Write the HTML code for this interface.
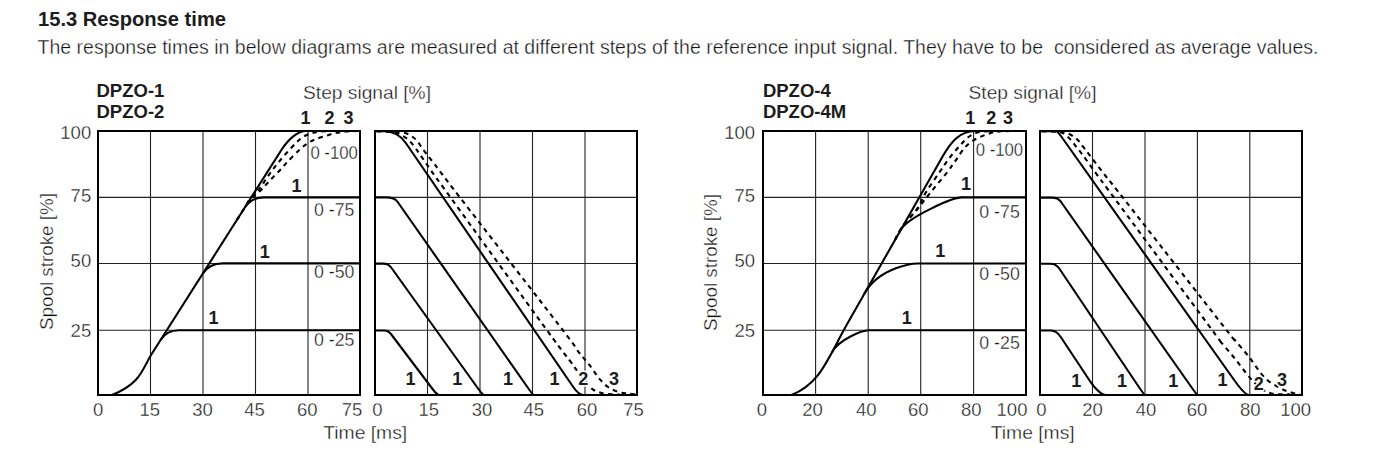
<!DOCTYPE html>
<html><head><meta charset="utf-8"><style>
html,body{margin:0;padding:0;background:#fff;}
svg{display:block;}
text{font-family:"Liberation Sans", sans-serif;}
</style></head><body>
<svg width="1373" height="460" viewBox="0 0 1373 460">
<rect width="1373" height="460" fill="#fff"/>
<line x1="150.5" y1="131" x2="150.5" y2="395" stroke="#222" stroke-width="1.1"/>
<line x1="203" y1="131" x2="203" y2="395" stroke="#222" stroke-width="1.1"/>
<line x1="255.5" y1="131" x2="255.5" y2="395" stroke="#222" stroke-width="1.1"/>
<line x1="308" y1="131" x2="308" y2="395" stroke="#222" stroke-width="1.1"/>
<line x1="98" y1="197.4" x2="360" y2="197.4" stroke="#222" stroke-width="1.1"/>
<line x1="98" y1="263.5" x2="360" y2="263.5" stroke="#222" stroke-width="1.1"/>
<line x1="98" y1="330.3" x2="360" y2="330.3" stroke="#222" stroke-width="1.1"/>
<rect x="98" y="131" width="262" height="264" fill="none" stroke="#000" stroke-width="2"/>
<line x1="427.5" y1="131" x2="427.5" y2="395" stroke="#222" stroke-width="1.1"/>
<line x1="480" y1="131" x2="480" y2="395" stroke="#222" stroke-width="1.1"/>
<line x1="532.5" y1="131" x2="532.5" y2="395" stroke="#222" stroke-width="1.1"/>
<line x1="585" y1="131" x2="585" y2="395" stroke="#222" stroke-width="1.1"/>
<line x1="375" y1="197.4" x2="637" y2="197.4" stroke="#222" stroke-width="1.1"/>
<line x1="375" y1="263.5" x2="637" y2="263.5" stroke="#222" stroke-width="1.1"/>
<line x1="375" y1="330.3" x2="637" y2="330.3" stroke="#222" stroke-width="1.1"/>
<rect x="375" y="131" width="262" height="264" fill="none" stroke="#000" stroke-width="2"/>
<line x1="815.6" y1="131" x2="815.6" y2="395" stroke="#222" stroke-width="1.1"/>
<line x1="868.2" y1="131" x2="868.2" y2="395" stroke="#222" stroke-width="1.1"/>
<line x1="920.7" y1="131" x2="920.7" y2="395" stroke="#222" stroke-width="1.1"/>
<line x1="973.6" y1="131" x2="973.6" y2="395" stroke="#222" stroke-width="1.1"/>
<line x1="763" y1="197.4" x2="1026" y2="197.4" stroke="#222" stroke-width="1.1"/>
<line x1="763" y1="263.5" x2="1026" y2="263.5" stroke="#222" stroke-width="1.1"/>
<line x1="763" y1="330.3" x2="1026" y2="330.3" stroke="#222" stroke-width="1.1"/>
<rect x="763" y="131" width="263" height="264" fill="none" stroke="#000" stroke-width="2"/>
<line x1="1092.5" y1="131" x2="1092.5" y2="395" stroke="#222" stroke-width="1.1"/>
<line x1="1145" y1="131" x2="1145" y2="395" stroke="#222" stroke-width="1.1"/>
<line x1="1197.4" y1="131" x2="1197.4" y2="395" stroke="#222" stroke-width="1.1"/>
<line x1="1249.8" y1="131" x2="1249.8" y2="395" stroke="#222" stroke-width="1.1"/>
<line x1="1040" y1="197.4" x2="1302" y2="197.4" stroke="#222" stroke-width="1.1"/>
<line x1="1040" y1="263.5" x2="1302" y2="263.5" stroke="#222" stroke-width="1.1"/>
<line x1="1040" y1="330.3" x2="1302" y2="330.3" stroke="#222" stroke-width="1.1"/>
<rect x="1040" y="131" width="262" height="264" fill="none" stroke="#000" stroke-width="2"/>
<path d="M112,395 C141.13,383.7 142.71,368.08 151.03,355 L281.38,150 C288.88,138.22 298.23,131 306,131 L359,131" fill="none" stroke="#000" stroke-width="2.1" stroke-linecap="butt" stroke-linejoin="round"/>
<path d="M160.56,340 C164.39,333.99 171.39,330.3 179,330.3 L359,330.3" fill="none" stroke="#000" stroke-width="2.1" stroke-linecap="butt" stroke-linejoin="round"/>
<path d="M202.72,273.7 C206.79,267.31 214.34,263.4 222.6,263.4 L359,263.4" fill="none" stroke="#000" stroke-width="2.1" stroke-linecap="butt" stroke-linejoin="round"/>
<path d="M244.95,207.3 C248.85,201.16 256.09,197.4 264,197.4 L359,197.4" fill="none" stroke="#000" stroke-width="2.1" stroke-linecap="butt" stroke-linejoin="round"/>
<path d="M236.87,220 C238.67,217.17 245.24,206.83 247.68,203 C250.12,199.17 249.41,199.53 251.5,197 C253.58,194.47 257.88,190.63 260.2,187.8 C262.52,184.97 263.52,182.75 265.4,180 C267.28,177.25 269.47,174.05 271.5,171.3 C273.53,168.55 275.13,166.5 277.6,163.5 C280.07,160.5 283.13,156.82 286.3,153.3 C289.47,149.78 293.7,145.2 296.6,142.4 C299.5,139.6 301.17,138.03 303.7,136.5 C306.23,134.97 309.08,134.03 311.8,133.2 C314.52,132.37 316.97,131.87 320,131.5 C323.03,131.13 325.83,131.08 330,131 C334.17,130.92 342.5,131 345,131" fill="none" stroke="#000" stroke-width="2.1" stroke-dasharray="4.6 4.4"/>
<path d="M236.87,220 C238.46,217.5 244.29,208.33 246.41,205 C248.53,201.67 247.23,202.43 249.59,200 C251.95,197.57 257.68,193.15 260.6,190.4 C263.52,187.65 264.85,185.88 267.1,183.5 C269.35,181.12 271.78,178.5 274.1,176.1 C276.42,173.7 278.83,171.42 281,169.1 C283.17,166.78 284.05,165.38 287.1,162.2 C290.15,159.02 295.82,153.2 299.3,150 C302.78,146.8 305.22,144.83 308,143 C310.78,141.17 313.1,140.17 316,139 C318.9,137.83 322.4,136.93 325.4,136 C328.4,135.07 331.07,134.1 334,133.4 C336.93,132.7 340.08,132.17 343,131.8 C345.92,131.43 349,131.33 351.5,131.2 C354,131.07 356.92,131.03 358,131" fill="none" stroke="#000" stroke-width="2.1" stroke-dasharray="4.6 4.4"/>
<path d="M791.4,395 C821.07,383.01 827.22,358.9 848.3,322 L942.88,156 C950.88,142 960.02,131 975,131 L1025,131" fill="none" stroke="#000" stroke-width="2.1" stroke-linecap="butt" stroke-linejoin="round"/>
<path d="M832.2,351.99 C838.79,339.64 862.2,330.3 868.7,330.3 L1025,330.3" fill="none" stroke="#000" stroke-width="2.1" stroke-linecap="butt" stroke-linejoin="round"/>
<path d="M864.06,294 C879.93,266.21 915.1,263.5 917.6,263.5 L1025,263.5" fill="none" stroke="#000" stroke-width="2.1" stroke-linecap="butt" stroke-linejoin="round"/>
<path d="M900.61,230 C908.05,216.98 952.7,197.4 961.7,197.4 L1025,197.4" fill="none" stroke="#000" stroke-width="2.1" stroke-linecap="butt" stroke-linejoin="round"/>
<path d="M894.9,240 C896.23,237.67 899.28,231.07 902.9,226 C906.52,220.93 912.73,215.27 916.6,209.6 C920.47,203.93 922.35,198.13 926.1,192 C929.85,185.87 935.3,178.35 939.1,172.8 C942.9,167.25 945.45,163.22 948.9,158.7 C952.35,154.18 956.53,149.32 959.8,145.7 C963.07,142.08 965.6,139.18 968.5,137 C971.4,134.82 973.95,133.57 977.2,132.6 C980.45,131.63 984.53,131.47 988,131.2 C991.47,130.93 996.33,131.03 998,131" fill="none" stroke="#000" stroke-width="2.1" stroke-dasharray="4.6 4.4"/>
<path d="M894.9,240 C896.23,237.67 899.13,231.17 902.9,226 C906.67,220.83 912.83,214.67 917.5,209 C922.17,203.33 926.03,198.03 930.9,192 C935.77,185.97 942.62,177.98 946.7,172.8 C950.78,167.62 952.5,164.97 955.4,160.9 C958.3,156.83 961.2,151.75 964.1,148.4 C967,145.05 969.72,142.88 972.8,140.8 C975.88,138.72 979.33,137.27 982.6,135.9 C985.87,134.53 989.33,133.37 992.4,132.6 C995.47,131.83 997.73,131.57 1001,131.3 C1004.27,131.03 1010.17,131.05 1012,131" fill="none" stroke="#000" stroke-width="2.1" stroke-dasharray="4.6 4.4"/>
<path d="M376,131.3 L384,131.3 C392.53,131.3 400.81,135.75 405.79,143 L572.9,386.5 C576.52,391.77 580.55,395 583.5,395 L636,395" fill="none" stroke="#000" stroke-width="2.1" stroke-linecap="butt" stroke-linejoin="round"/>
<path d="M376,197.4 L386,197.4 C391.25,197.4 395.69,199.15 397.69,202 L528.07,388 C531.12,392.34 533.37,395 534,395 L636,395" fill="none" stroke="#000" stroke-width="2.1" stroke-linecap="butt" stroke-linejoin="round"/>
<path d="M376,263.6 L383.5,263.6 C386.52,263.6 389.43,265.08 391.17,267.5 L477.68,388 C480.8,392.34 483.39,395 484.5,395 L636,395" fill="none" stroke="#000" stroke-width="2.1" stroke-linecap="butt" stroke-linejoin="round"/>
<path d="M376,330.5 L384.5,330.5 C386.86,330.5 389.46,332.02 391.34,334.5 L432.54,389 C435.35,392.72 438,395 439.5,395 L636,395" fill="none" stroke="#000" stroke-width="2.1" stroke-linecap="butt" stroke-linejoin="round"/>
<path d="M377,131.2 C378.83,131.25 384.5,131.12 388,131.5 C391.5,131.88 394.7,132.2 398,133.5 C401.3,134.8 405,137.02 407.8,139.3 C410.6,141.58 412.72,144.58 414.8,147.2 C416.88,149.82 417.07,150.37 420.3,155 C423.53,159.63 429.18,167.95 434.19,175 C439.21,182.05 431.63,171.47 450.39,197.3 C469.15,223.13 526.82,302.73 546.76,330 C566.69,357.27 565.23,354.48 570,360.9 C574.77,367.32 573.23,365.68 575.4,368.5 C577.57,371.32 580.28,374.45 583,377.8 C585.72,381.15 588.62,386.07 591.7,388.6 C594.78,391.13 598.12,392.05 601.5,393 C604.88,393.95 608.92,394.05 612,394.3 C615.08,394.55 618.67,394.47 620,394.5" fill="none" stroke="#000" stroke-width="2.1" stroke-dasharray="4.6 4.4"/>
<path d="M377,131.2 C379.5,131.25 387.17,131.15 392,131.5 C396.83,131.85 402.07,132 406,133.3 C409.93,134.6 413.07,137.07 415.6,139.3 C418.13,141.53 419.3,144.15 421.2,146.7 C423.1,149.25 425.03,152.02 427,154.6 C428.97,157.18 427.53,155.08 433,162.2 C438.47,169.32 438.18,169.33 459.8,197.3 C481.42,225.27 542.87,304.18 562.69,330 C582.51,355.82 575.13,347.42 578.7,352.2 C582.27,356.98 582.28,356.53 584.1,358.7 C585.92,360.87 587.78,362.85 589.6,365.2 C591.42,367.55 593.2,370.35 595,372.8 C596.8,375.25 598.23,377.53 600.4,379.9 C602.57,382.27 605.1,385.02 608,387 C610.9,388.98 614.53,390.7 617.8,391.8 C621.07,392.9 624.57,393.18 627.6,393.6 C630.63,394.02 634.6,394.18 636,394.3" fill="none" stroke="#000" stroke-width="2.1" stroke-dasharray="4.6 4.4"/>
<path d="M1041,131.3 L1056,131.3 C1056.99,131.3 1058.99,133.28 1061.28,136.5 L1234.14,380 C1240.74,389.3 1246.43,395 1249.1,395 L1301,395" fill="none" stroke="#000" stroke-width="2.1" stroke-linecap="butt" stroke-linejoin="round"/>
<path d="M1041,197.6 L1052,197.6 C1055.7,197.6 1059,199.08 1060.71,201.5 L1190.63,386 C1194.56,391.58 1197.06,395 1197.2,395 L1301,395" fill="none" stroke="#000" stroke-width="2.1" stroke-linecap="butt" stroke-linejoin="round"/>
<path d="M1041,263.8 L1050,263.8 C1053.8,263.8 1057.32,265.59 1059.28,268.5 L1138.21,386 C1141.95,391.58 1144.57,395 1145.1,395 L1301,395" fill="none" stroke="#000" stroke-width="2.1" stroke-linecap="butt" stroke-linejoin="round"/>
<path d="M1041,330.5 L1051,330.5 C1054.4,330.5 1058.12,332.97 1060.78,337 L1089.22,380 C1096.16,390.5 1102.62,395 1106.1,395 L1301,395" fill="none" stroke="#000" stroke-width="2.1" stroke-linecap="butt" stroke-linejoin="round"/>
<path d="M1042,131.2 C1044,131.25 1050.73,131.27 1054,131.5 C1057.27,131.73 1058.93,131.33 1061.6,132.6 C1064.27,133.87 1067.52,136.68 1070,139.1 C1072.48,141.52 1074.47,144.57 1076.5,147.1 C1078.53,149.63 1078.32,149.07 1082.2,154.3 C1086.08,159.53 1094.56,171.35 1099.8,178.5 C1105.04,185.65 1094.96,171.97 1113.66,197.2 C1132.35,222.43 1194.18,305.88 1211.97,329.9 C1229.76,353.92 1216.73,336.7 1220.4,341.3 C1224.07,345.9 1229.43,351.85 1234,357.5 C1238.57,363.15 1244.05,370.7 1247.8,375.2 C1251.55,379.7 1253.47,381.78 1256.5,384.5 C1259.53,387.22 1262.75,389.92 1266,391.5 C1269.25,393.08 1272,393.52 1276,394 C1280,394.48 1287.67,394.33 1290,394.4" fill="none" stroke="#000" stroke-width="2.1" stroke-dasharray="4.6 4.4"/>
<path d="M1042,131.2 C1044.67,131.27 1053.72,131.23 1058,131.6 C1062.28,131.97 1064.55,132.15 1067.7,133.4 C1070.85,134.65 1074.35,136.88 1076.9,139.1 C1079.45,141.32 1080.98,144.17 1083,146.7 C1085.02,149.23 1085.17,149.33 1089,154.3 C1092.83,159.27 1100.4,169.35 1106,176.5 C1111.6,183.65 1102.51,171.63 1122.57,197.2 C1142.63,222.77 1207.64,306.1 1226.34,329.9 C1245.05,353.7 1231.01,335.48 1234.8,340 C1238.59,344.52 1244.1,350.7 1249.1,357 C1254.1,363.3 1259.58,372.6 1264.8,377.8 C1270.02,383 1275.85,385.7 1280.4,388.2 C1284.95,390.7 1288.83,391.78 1292.1,392.8 C1295.37,393.82 1298.68,394.05 1300,394.3" fill="none" stroke="#000" stroke-width="2.1" stroke-dasharray="4.6 4.4"/>
<text x="38" y="26" font-size="20" font-weight="bold" text-anchor="start" fill="#1c1c1c" textLength="188" lengthAdjust="spacingAndGlyphs">15.3 Response time</text>
<text x="37.5" y="53.6" font-size="19.5" text-anchor="start" fill="#111" textLength="1281" lengthAdjust="spacingAndGlyphs" stroke="#fff" stroke-width="0.35">The response times in below diagrams are measured at different steps of the reference input signal. They have to be&#160; considered as average values.</text>
<text x="96.5" y="97" font-size="18.5" font-weight="bold" text-anchor="start" fill="#1c1c1c">DPZO-1</text>
<text x="96.5" y="117.7" font-size="18.5" font-weight="bold" text-anchor="start" fill="#1c1c1c">DPZO-2</text>
<text x="762.9" y="97" font-size="18.5" font-weight="bold" text-anchor="start" fill="#1c1c1c">DPZO-4</text>
<text x="762.9" y="117.7" font-size="18.5" font-weight="bold" text-anchor="start" fill="#1c1c1c">DPZO-4M</text>
<text x="303" y="99" font-size="19" text-anchor="start" fill="#111" textLength="128" lengthAdjust="spacingAndGlyphs" stroke="#fff" stroke-width="0.35">Step signal [%]</text>
<text x="968.5" y="99" font-size="19" text-anchor="start" fill="#111" textLength="128" lengthAdjust="spacingAndGlyphs" stroke="#fff" stroke-width="0.35">Step signal [%]</text>
<text x="305.55" y="124" font-size="18" font-weight="bold" text-anchor="middle" fill="#1c1c1c">1</text>
<text x="329.5" y="124" font-size="18" font-weight="bold" text-anchor="middle" fill="#1c1c1c">2</text>
<text x="348.6" y="124" font-size="18" font-weight="bold" text-anchor="middle" fill="#1c1c1c">3</text>
<text x="970.35" y="124" font-size="18" font-weight="bold" text-anchor="middle" fill="#1c1c1c">1</text>
<text x="991.25" y="124" font-size="18" font-weight="bold" text-anchor="middle" fill="#1c1c1c">2</text>
<text x="1008" y="124" font-size="18" font-weight="bold" text-anchor="middle" fill="#1c1c1c">3</text>
<text x="91.2" y="138.9" font-size="18.5" text-anchor="end" fill="#111" stroke="#fff" stroke-width="0.35">100</text>
<text x="91.2" y="201.9" font-size="18.5" text-anchor="end" fill="#111" stroke="#fff" stroke-width="0.35">75</text>
<text x="91.2" y="267.2" font-size="18.5" text-anchor="end" fill="#111" stroke="#fff" stroke-width="0.35">50</text>
<text x="91.2" y="336.7" font-size="18.5" text-anchor="end" fill="#111" stroke="#fff" stroke-width="0.35">25</text>
<text x="755" y="138.9" font-size="18.5" text-anchor="end" fill="#111" stroke="#fff" stroke-width="0.35">100</text>
<text x="755" y="201.9" font-size="18.5" text-anchor="end" fill="#111" stroke="#fff" stroke-width="0.35">75</text>
<text x="755" y="267.2" font-size="18.5" text-anchor="end" fill="#111" stroke="#fff" stroke-width="0.35">50</text>
<text x="755" y="336.7" font-size="18.5" text-anchor="end" fill="#111" stroke="#fff" stroke-width="0.35">25</text>
<text transform="translate(52.7,330) rotate(-90)" font-size="19" fill="#111" stroke="#fff" stroke-width="0.35" textLength="137" lengthAdjust="spacingAndGlyphs">Spool stroke [%]</text>
<text transform="translate(717,331) rotate(-90)" font-size="19" fill="#111" stroke="#fff" stroke-width="0.35" textLength="137" lengthAdjust="spacingAndGlyphs">Spool stroke [%]</text>
<text x="98.2" y="416.2" font-size="18.5" text-anchor="middle" fill="#111" stroke="#fff" stroke-width="0.35">0</text>
<text x="149.7" y="416.2" font-size="18.5" text-anchor="middle" fill="#111" stroke="#fff" stroke-width="0.35">15</text>
<text x="202.6" y="416.2" font-size="18.5" text-anchor="middle" fill="#111" stroke="#fff" stroke-width="0.35">30</text>
<text x="254.5" y="416.2" font-size="18.5" text-anchor="middle" fill="#111" stroke="#fff" stroke-width="0.35">45</text>
<text x="307.3" y="416.2" font-size="18.5" text-anchor="middle" fill="#111" stroke="#fff" stroke-width="0.35">60</text>
<text x="352" y="416.2" font-size="18.5" text-anchor="middle" fill="#111" stroke="#fff" stroke-width="0.35">75</text>
<text x="377.4" y="416.2" font-size="18.5" text-anchor="middle" fill="#111" stroke="#fff" stroke-width="0.35">0</text>
<text x="428.8" y="416.2" font-size="18.5" text-anchor="middle" fill="#111" stroke="#fff" stroke-width="0.35">15</text>
<text x="482" y="416.2" font-size="18.5" text-anchor="middle" fill="#111" stroke="#fff" stroke-width="0.35">30</text>
<text x="533.8" y="416.2" font-size="18.5" text-anchor="middle" fill="#111" stroke="#fff" stroke-width="0.35">45</text>
<text x="587" y="416.2" font-size="18.5" text-anchor="middle" fill="#111" stroke="#fff" stroke-width="0.35">60</text>
<text x="633.5" y="416.2" font-size="18.5" text-anchor="middle" fill="#111" stroke="#fff" stroke-width="0.35">75</text>
<text x="762" y="416.2" font-size="18.5" text-anchor="middle" fill="#111" stroke="#fff" stroke-width="0.35">0</text>
<text x="812.5" y="416.2" font-size="18.5" text-anchor="middle" fill="#111" stroke="#fff" stroke-width="0.35">20</text>
<text x="866.3" y="416.2" font-size="18.5" text-anchor="middle" fill="#111" stroke="#fff" stroke-width="0.35">40</text>
<text x="918.3" y="416.2" font-size="18.5" text-anchor="middle" fill="#111" stroke="#fff" stroke-width="0.35">60</text>
<text x="971.2" y="416.2" font-size="18.5" text-anchor="middle" fill="#111" stroke="#fff" stroke-width="0.35">80</text>
<text x="1012" y="416.2" font-size="18.5" text-anchor="middle" fill="#111" stroke="#fff" stroke-width="0.35">100</text>
<text x="1041.5" y="416.2" font-size="18.5" text-anchor="middle" fill="#111" stroke="#fff" stroke-width="0.35">0</text>
<text x="1092.5" y="416.2" font-size="18.5" text-anchor="middle" fill="#111" stroke="#fff" stroke-width="0.35">20</text>
<text x="1146" y="416.2" font-size="18.5" text-anchor="middle" fill="#111" stroke="#fff" stroke-width="0.35">40</text>
<text x="1197" y="416.2" font-size="18.5" text-anchor="middle" fill="#111" stroke="#fff" stroke-width="0.35">60</text>
<text x="1250.3" y="416.2" font-size="18.5" text-anchor="middle" fill="#111" stroke="#fff" stroke-width="0.35">80</text>
<text x="1295.7" y="416.2" font-size="18.5" text-anchor="middle" fill="#111" stroke="#fff" stroke-width="0.35">100</text>
<text x="323.2" y="438.6" font-size="19" text-anchor="start" fill="#111" textLength="84" lengthAdjust="spacingAndGlyphs" stroke="#fff" stroke-width="0.35">Time [ms]</text>
<text x="990.7" y="438.6" font-size="19" text-anchor="start" fill="#111" textLength="84" lengthAdjust="spacingAndGlyphs" stroke="#fff" stroke-width="0.35">Time [ms]</text>
<text x="310.4" y="159.2" font-size="18.5" text-anchor="start" fill="#111" textLength="47.5" lengthAdjust="spacingAndGlyphs" stroke="#fff" stroke-width="0.35">0 -100</text>
<text x="314" y="216.2" font-size="18.5" text-anchor="start" fill="#111" textLength="40.5" lengthAdjust="spacingAndGlyphs" stroke="#fff" stroke-width="0.35">0 -75</text>
<text x="314" y="278.2" font-size="18.5" text-anchor="start" fill="#111" textLength="40.5" lengthAdjust="spacingAndGlyphs" stroke="#fff" stroke-width="0.35">0 -50</text>
<text x="314" y="346.2" font-size="18.5" text-anchor="start" fill="#111" textLength="40.5" lengthAdjust="spacingAndGlyphs" stroke="#fff" stroke-width="0.35">0 -25</text>
<text x="975.7" y="156.2" font-size="18.5" text-anchor="start" fill="#111" textLength="47.5" lengthAdjust="spacingAndGlyphs" stroke="#fff" stroke-width="0.35">0 -100</text>
<text x="979.3" y="218" font-size="18.5" text-anchor="start" fill="#111" textLength="40.5" lengthAdjust="spacingAndGlyphs" stroke="#fff" stroke-width="0.35">0 -75</text>
<text x="979.3" y="280.1" font-size="18.5" text-anchor="start" fill="#111" textLength="40.5" lengthAdjust="spacingAndGlyphs" stroke="#fff" stroke-width="0.35">0 -50</text>
<text x="979.3" y="349.1" font-size="18.5" text-anchor="start" fill="#111" textLength="40.5" lengthAdjust="spacingAndGlyphs" stroke="#fff" stroke-width="0.35">0 -25</text>
<text x="296.5" y="192" font-size="18" font-weight="bold" text-anchor="middle" fill="#1c1c1c">1</text>
<text x="264.8" y="258" font-size="18" font-weight="bold" text-anchor="middle" fill="#1c1c1c">1</text>
<text x="213.4" y="323.7" font-size="18" font-weight="bold" text-anchor="middle" fill="#1c1c1c">1</text>
<text x="966.1" y="190.4" font-size="18" font-weight="bold" text-anchor="middle" fill="#1c1c1c">1</text>
<text x="940.2" y="256.5" font-size="18" font-weight="bold" text-anchor="middle" fill="#1c1c1c">1</text>
<text x="906.8" y="324" font-size="18" font-weight="bold" text-anchor="middle" fill="#1c1c1c">1</text>
<text x="410.5" y="384.8" font-size="18" font-weight="bold" text-anchor="middle" fill="#1c1c1c">1</text>
<text x="457.2" y="384.8" font-size="18" font-weight="bold" text-anchor="middle" fill="#1c1c1c">1</text>
<text x="508" y="384.8" font-size="18" font-weight="bold" text-anchor="middle" fill="#1c1c1c">1</text>
<text x="554.4" y="384.8" font-size="18" font-weight="bold" text-anchor="middle" fill="#1c1c1c">1</text>
<text x="583.2" y="384.8" font-size="18" font-weight="bold" text-anchor="middle" fill="#1c1c1c" stroke="#fff" stroke-width="3" paint-order="stroke" stroke-linejoin="round">2</text>
<text x="614" y="384.8" font-size="18" font-weight="bold" text-anchor="middle" fill="#1c1c1c" stroke="#fff" stroke-width="3" paint-order="stroke" stroke-linejoin="round">3</text>
<text x="1076.2" y="386.6" font-size="18" font-weight="bold" text-anchor="middle" fill="#1c1c1c">1</text>
<text x="1122.1" y="386.6" font-size="18" font-weight="bold" text-anchor="middle" fill="#1c1c1c">1</text>
<text x="1173.2" y="386.6" font-size="18" font-weight="bold" text-anchor="middle" fill="#1c1c1c">1</text>
<text x="1222.4" y="386.4" font-size="18" font-weight="bold" text-anchor="middle" fill="#1c1c1c">1</text>
<text x="1258.7" y="390.3" font-size="18" font-weight="bold" text-anchor="middle" fill="#1c1c1c" stroke="#fff" stroke-width="3" paint-order="stroke" stroke-linejoin="round">2</text>
<text x="1282.1" y="385.7" font-size="18" font-weight="bold" text-anchor="middle" fill="#1c1c1c" stroke="#fff" stroke-width="3" paint-order="stroke" stroke-linejoin="round">3</text>
</svg>
</body></html>
